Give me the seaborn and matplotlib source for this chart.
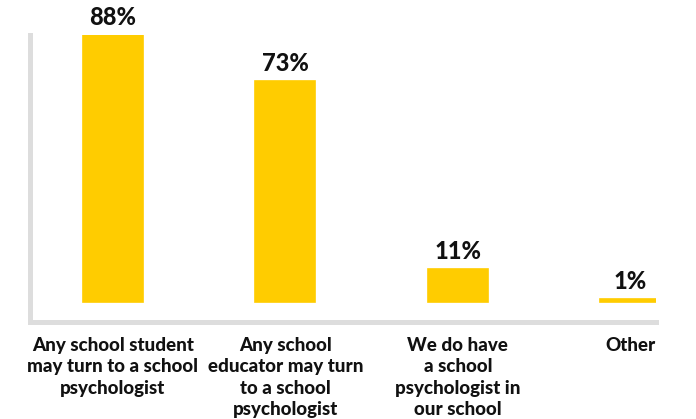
import matplotlib
matplotlib.use("Agg")
import matplotlib.pyplot as plt
import seaborn as sns
import pandas as pd

categories = [
    "Any school student\nmay turn to a school\npsychologist",
    "Any school\neducator may turn\nto a school\npsychologist",
    "We do have\na school\npsychologist in\nour school",
    "Other",
]
values = [88, 73, 11, 1]
value_labels = ["88%", "73%", "11%", "1%"]

sns.set_style("white")
plt.rcParams["font.family"] = ["Lato", "DejaVu Sans"]

df = pd.DataFrame({"category": categories, "value": values})

W, H = 696, 419
fig = plt.figure(figsize=(W / 100, H / 100), dpi=100)
ax = fig.add_axes([30 / W, (H - 322) / H, (656 - 30) / W, (322 - 35) / H])

sns.barplot(data=df, x="category", y="value", color="#FFCC00",
            saturation=1, width=0.348, ax=ax,
            edgecolor="#FFCC00", linewidth=1.2)

ax.set_xlim(-0.479, 3.148)
ax.set_ylim(-6.6, 88)

for i, (v, lab) in enumerate(zip(values, value_labels)):
    ax.annotate(lab, (i, v), xytext=(0, 4), textcoords="offset points",
                ha="center", va="bottom", fontsize=17, fontweight="black",
                color="#111111")

ax.set_xlabel("")
ax.set_ylabel("")
ax.set_yticks([])
ax.tick_params(axis="x", length=0, pad=11)
for t in ax.get_xticklabels():
    t.set_fontsize(13.5)
    t.set_fontweight("black")
    t.set_color("#111111")
    t.set_linespacing(1.3)
    t.set_verticalalignment("top")

for side in ["top", "right"]:
    ax.spines[side].set_visible(False)
for side in ["left", "bottom"]:
    ax.spines[side].set_color("#dddddd")
    ax.spines[side].set_linewidth(3.6)

fig.savefig("out.png", dpi=100)
